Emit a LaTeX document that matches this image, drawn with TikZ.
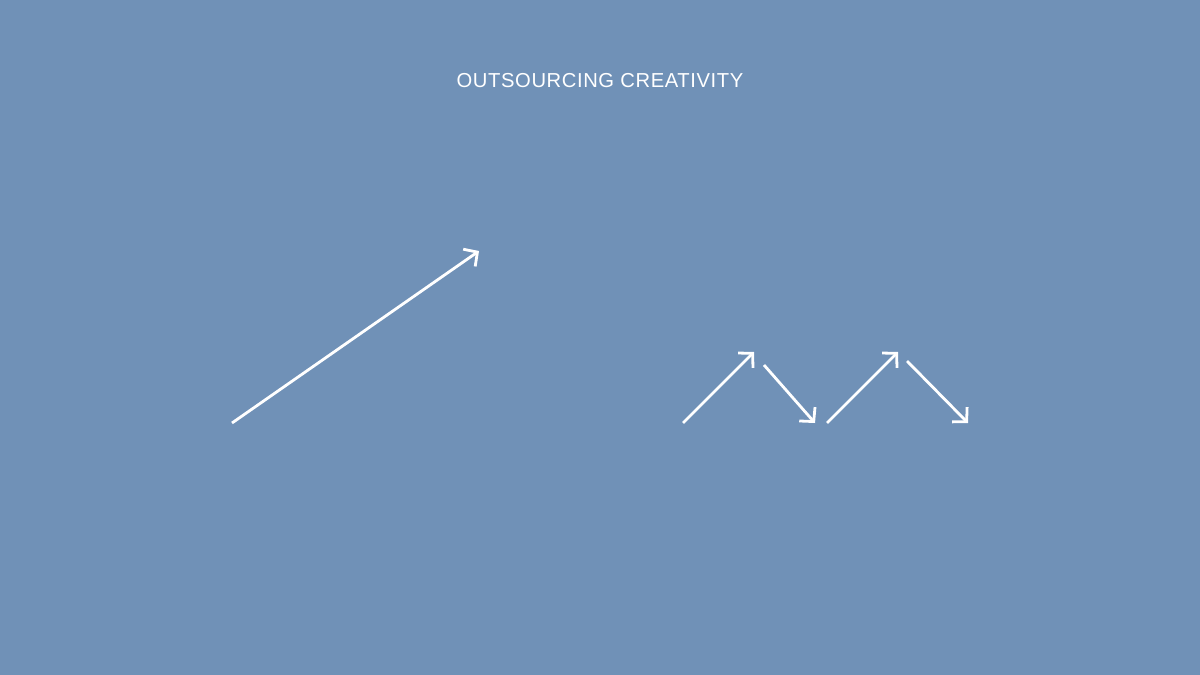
\documentclass[tikz,border=0pt]{standalone}
\usepackage{fontspec}
\setmainfont{Liberation Sans}
\usetikzlibrary{arrows.meta}
\definecolor{bg}{RGB}{112,145,183}
\tikzset{
  arr/.style={draw=white, line width=2.8pt, -{Straight Barb[length=10pt,width=21pt,line width=2.8pt]}},
  title/.style={text=white, font=\fontsize{20.2}{23}\selectfont, inner sep=0pt}
}
\begin{document}
\begin{tikzpicture}[x=1pt,y=-1pt]
\fill[bg] (0,0) rectangle (1200,675);
\useasboundingbox (0,0) rectangle (1200,675);
\node[title] (t) at (600,81) {\addfontfeature{LetterSpace=3}OUTSOURCING CREATIVITY};
\coordinate (a1) at (232,423);
\coordinate (a2) at (479,251);
\coordinate (b1) at (683,423);
\coordinate (b2) at (754,352);
\coordinate (c1) at (764,365);
\coordinate (c2) at (815,423);
\coordinate (d1) at (827,423);
\coordinate (d2) at (898,352);
\coordinate (e1) at (907,361);
\coordinate (e2) at (968,423);
\draw[arr] (a1) -- (a2);
\draw[arr] (b1) -- (b2);
\draw[arr] (c1) -- (c2);
\draw[arr] (d1) -- (d2);
\draw[arr] (e1) -- (e2);
\end{tikzpicture}
\end{document}
